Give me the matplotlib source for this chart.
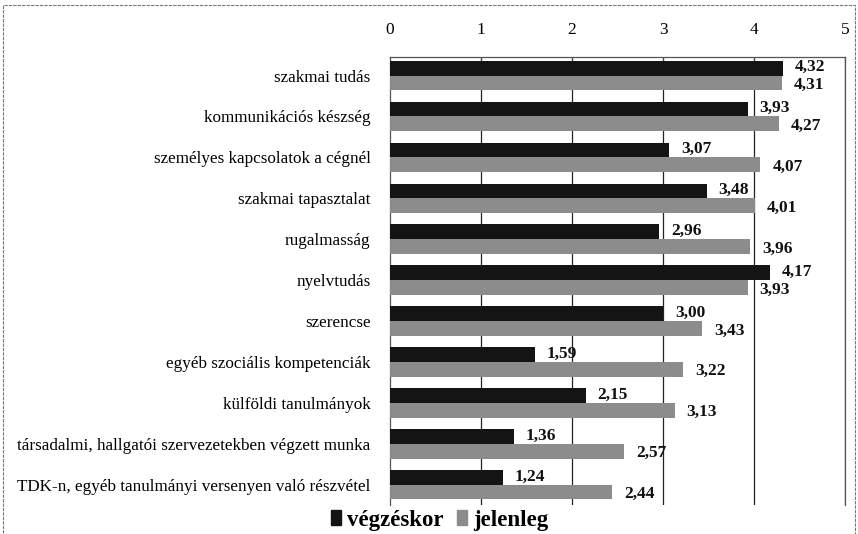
import matplotlib
matplotlib.use('Agg')
import matplotlib.pyplot as plt
import matplotlib.patches as patches
import numpy as np

plt.rcParams['font.family'] = ['Liberation Serif', 'DejaVu Serif']

categories = ['szakmai tudás', 'kommunikációs készség', 'személyes kapcsolatok a cégnél',
              'szakmai tapasztalat', 'rugalmasság', 'nyelvtudás', 'szerencse',
              'egyéb szociális kompetenciák', 'külföldi tanulmányok',
              'társadalmi, hallgatói szervezetekben végzett munka',
              'TDK-n, egyéb tanulmányi versenyen való részvétel']
vegzeskor = [4.32, 3.93, 3.07, 3.48, 2.96, 4.17, 3.00, 1.59, 2.15, 1.36, 1.24]
jelenleg = [4.31, 4.27, 4.07, 4.01, 3.96, 3.93, 3.43, 3.22, 3.13, 2.57, 2.44]
series_names = ['végzéskor', 'jelenleg']

fig = plt.figure(figsize=(8.58, 5.34), dpi=100)
ax = fig.add_axes([0.4545, 0.054, 0.5305, 0.839])

y = np.arange(len(categories))
h = 0.36
black = '#141414'
gray = '#8c8c8c'
ax.barh(y - h / 2, vegzeskor, height=h, color=black, zorder=3)
ax.barh(y + h / 2, jelenleg, height=h, color=gray, zorder=3)

def fmt(v):
    return f'{v:.2f}'.replace('.', ',')

for i, (a, b) in enumerate(zip(vegzeskor, jelenleg)):
    ax.text(a + 0.13, i - h / 2 - 0.02, fmt(a), va='center', ha='left',
            fontsize=12.5, fontweight='bold', color='#111111')
    ax.text(b + 0.13, i + h / 2 + 0.05, fmt(b), va='center', ha='left',
            fontsize=12.5, fontweight='bold', color='#111111')

ax.set_xlim(0, 5)
ax.set_ylim(10.5, -0.45)
ax.set_xticks(range(6))
ax.xaxis.tick_top()
ax.tick_params(axis='x', direction='in', length=4, pad=-1, labelsize=12.5,
               color='#444444')
for lbl in ax.get_xticklabels():
    lbl.set_y(1.045)
ax.set_yticks(y)
ax.set_yticklabels(categories, fontsize=12.3)
ax.tick_params(axis='y', length=0, pad=14)

for xv in range(1, 6):
    ax.axvline(xv, color='#222222', lw=0.9, zorder=1)

for side in ['top', 'right', 'left']:
    ax.spines[side].set_color('#555555')
    ax.spines[side].set_linewidth(0.9)
ax.spines['bottom'].set_visible(False)

handles = [patches.Patch(color=black), patches.Patch(color=gray)]
fig.legend(handles, series_names, loc='center', bbox_to_anchor=(0.512, 0.026),
           ncol=2, frameon=False, prop={'weight': 'bold', 'size': 16.5},
           handlelength=0.45, handleheight=0.6, handletextpad=0.25, columnspacing=0.6)

border = patches.Rectangle((0.004, -0.02), 0.992, 1.01, transform=fig.transFigure,
                           fill=False, edgecolor='#777777', lw=0.8, ls=(0, (3, 1)))
fig.patches.append(border)

fig.savefig('out.png', dpi=100)
